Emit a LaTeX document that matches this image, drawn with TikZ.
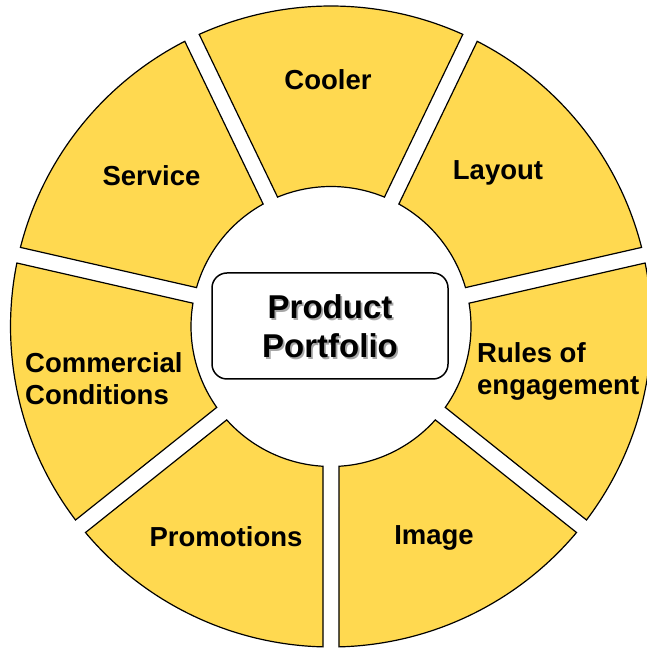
\documentclass[tikz,border=0pt]{standalone}
\usepackage{fontspec}
\setmainfont{Liberation Sans}
\definecolor{seg}{RGB}{255,217,80}
\newcommand{\shadowed}[1]{\makebox[0pt][l]{\kern1.8pt\raisebox{-1.8pt}{\textcolor{black!35}{#1}}}#1}
\begin{document}
\begin{tikzpicture}[x=1pt,y=1pt,
  segment/.style={fill=seg, draw=black, line width=1.2pt, line join=miter},
  lbl/.style={font=\bfseries\fontsize{27.5}{32}\selectfont, align=left, inner sep=0pt},
  centerbox/.style={draw=black, fill=white, line width=1.5pt, rounded corners=15pt, minimum width=236pt, minimum height=106pt, inner sep=0pt},
  ctext/.style={font=\bfseries\fontsize{33}{39}\selectfont, align=center, inner sep=0pt},
]
\useasboundingbox (0,0) rectangle (647,650);
\begin{scope}[shift={(331,323.5)}]
\pgfmathsetmacro{\rout}{320.5}
\pgfmathsetmacro{\rin}{140}
\pgfmathsetmacro{\gp}{8}
\pgfmathsetmacro{\oo}{asin(\gp/\rout)}
\pgfmathsetmacro{\io}{asin(\gp/\rin)}
\foreach \i in {0,...,6}{
  \pgfmathsetmacro{\aa}{270+\i*360/7}
  \pgfmathsetmacro{\bb}{\aa+360/7}
  \pgfmathsetmacro{\oa}{\aa+\oo}
  \pgfmathsetmacro{\ob}{\bb-\oo}
  \pgfmathsetmacro{\ia}{\aa+\io}
  \pgfmathsetmacro{\ib}{\bb-\io}
  \draw[segment] (\oa:\rout pt) arc[start angle=\oa, end angle=\ob, radius=\rout pt]
     -- (\ib:\rin pt) arc[start angle=\ib, end angle=\ia, radius=\rin pt] -- cycle;
}
\end{scope}
\node[lbl] (cooler) at (328,570) {Cooler};
\node[lbl] (layout) at (498,477) {Layout};
\node[lbl] (service) at (151.5,474) {Service};
\node[lbl, anchor=west] (commercial) at (25,271) {Commercial\\Conditions};
\node[lbl, anchor=west] (rules) at (477,279) {Rules of\\engagement};
\node[lbl] (promotions) at (226,113) {Promotions};
\node[lbl] (image) at (434,112) {Image};
\node[centerbox] (pp) at (330,324) {};
\node[ctext] (pptext) at (330,322.5) {\shadowed{Product}\\\shadowed{Portfolio}};
\end{tikzpicture}
\end{document}
